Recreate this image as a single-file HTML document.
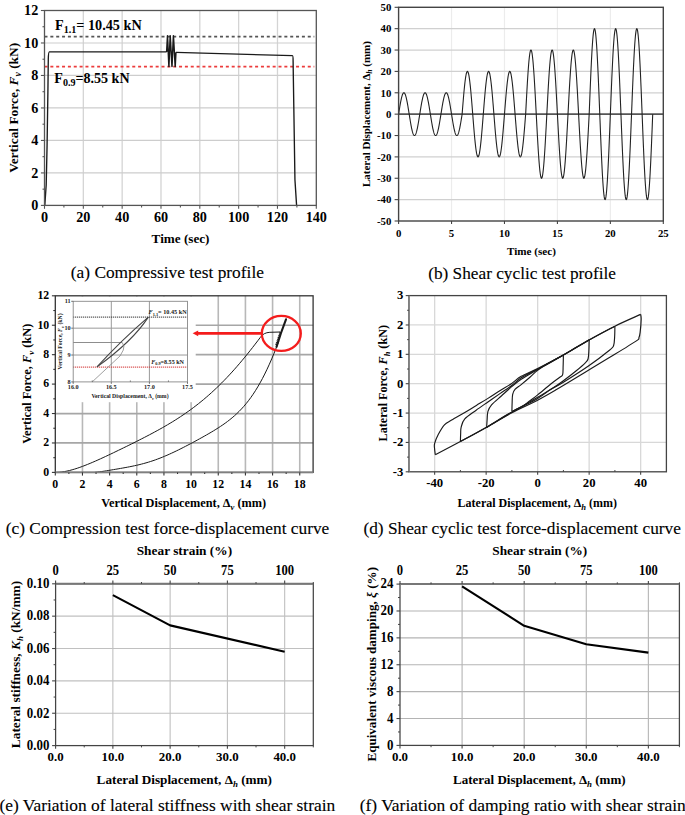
<!DOCTYPE html>
<html><head><meta charset="utf-8"><style>
html,body{margin:0;padding:0;background:#fff;width:685px;height:815px;overflow:hidden}
svg{display:block}
</style></head><body>
<svg width="685" height="815" viewBox="0 0 685 815" font-family="Liberation Serif, serif" fill="#000">
<line x1="83.33" y1="10.5" x2="83.33" y2="205.4" stroke="#d4d4d4" stroke-width="1.3" />
<line x1="122.16" y1="10.5" x2="122.16" y2="205.4" stroke="#d4d4d4" stroke-width="1.3" />
<line x1="160.99" y1="10.5" x2="160.99" y2="205.4" stroke="#d4d4d4" stroke-width="1.3" />
<line x1="199.81" y1="10.5" x2="199.81" y2="205.4" stroke="#d4d4d4" stroke-width="1.3" />
<line x1="238.64" y1="10.5" x2="238.64" y2="205.4" stroke="#d4d4d4" stroke-width="1.3" />
<line x1="277.47" y1="10.5" x2="277.47" y2="205.4" stroke="#d4d4d4" stroke-width="1.3" />
<line x1="44.5" y1="172.92" x2="316.3" y2="172.92" stroke="#cdcdcd" stroke-width="1.2" />
<line x1="44.5" y1="140.43" x2="316.3" y2="140.43" stroke="#cdcdcd" stroke-width="1.2" />
<line x1="44.5" y1="107.95" x2="316.3" y2="107.95" stroke="#cdcdcd" stroke-width="1.2" />
<line x1="44.5" y1="75.47" x2="316.3" y2="75.47" stroke="#cdcdcd" stroke-width="1.2" />
<line x1="44.5" y1="42.98" x2="316.3" y2="42.98" stroke="#cdcdcd" stroke-width="1.2" />
<line x1="44.5" y1="36.6" x2="314.3" y2="36.6" stroke="#555" stroke-width="1.9" stroke-dasharray="3 2.85"/>
<line x1="44.5" y1="66.6" x2="314.3" y2="66.6" stroke="#ec3c3c" stroke-width="1.9" stroke-dasharray="3 2.85"/>
<path d="M44.79 205.4 L46.19 184.94 L47.08 145.31 L47.9 91.71 L48.29 59.22 Q48.48 51.92 49.35 51.92 L166.62 51.92" stroke="#1a1a1a" stroke-width="1.35" fill="none" />
<path d="M166.62 51.92 L167.51 35.67 L168.91 66.53 L170.21 35.67 L171.99 66.53 L173.41 35.67 L175.2 66.53 L175.93 52.4" stroke="#1a1a1a" stroke-width="1.5" fill="none" stroke-linejoin="round"/>
<path d="M175.93 52.4 L292.42 55.65 Q293.1 55.65 293.1 60.85 L293.39 80.34 L294.94 179.74 L296.59 205.4" stroke="#1a1a1a" stroke-width="1.35" fill="none" />
<rect x="44.5" y="10.5" width="271.8" height="194.9" fill="none" stroke="#555" stroke-width="1.3"/>
<line x1="40.9" y1="205.4" x2="44.5" y2="205.4" stroke="#555" stroke-width="1.1" />
<line x1="42.5" y1="189.16" x2="44.5" y2="189.16" stroke="#555" stroke-width="1.1" />
<line x1="40.9" y1="172.92" x2="44.5" y2="172.92" stroke="#555" stroke-width="1.1" />
<line x1="42.5" y1="156.68" x2="44.5" y2="156.68" stroke="#555" stroke-width="1.1" />
<line x1="40.9" y1="140.43" x2="44.5" y2="140.43" stroke="#555" stroke-width="1.1" />
<line x1="42.5" y1="124.19" x2="44.5" y2="124.19" stroke="#555" stroke-width="1.1" />
<line x1="40.9" y1="107.95" x2="44.5" y2="107.95" stroke="#555" stroke-width="1.1" />
<line x1="42.5" y1="91.71" x2="44.5" y2="91.71" stroke="#555" stroke-width="1.1" />
<line x1="40.9" y1="75.47" x2="44.5" y2="75.47" stroke="#555" stroke-width="1.1" />
<line x1="42.5" y1="59.22" x2="44.5" y2="59.22" stroke="#555" stroke-width="1.1" />
<line x1="40.9" y1="42.98" x2="44.5" y2="42.98" stroke="#555" stroke-width="1.1" />
<line x1="42.5" y1="26.74" x2="44.5" y2="26.74" stroke="#555" stroke-width="1.1" />
<line x1="40.9" y1="10.5" x2="44.5" y2="10.5" stroke="#555" stroke-width="1.1" />
<line x1="44.5" y1="205.4" x2="44.5" y2="208.8" stroke="#555" stroke-width="1.1" />
<line x1="63.91" y1="205.4" x2="63.91" y2="207.4" stroke="#555" stroke-width="1.1" />
<line x1="83.33" y1="205.4" x2="83.33" y2="208.8" stroke="#555" stroke-width="1.1" />
<line x1="102.74" y1="205.4" x2="102.74" y2="207.4" stroke="#555" stroke-width="1.1" />
<line x1="122.16" y1="205.4" x2="122.16" y2="208.8" stroke="#555" stroke-width="1.1" />
<line x1="141.57" y1="205.4" x2="141.57" y2="207.4" stroke="#555" stroke-width="1.1" />
<line x1="160.99" y1="205.4" x2="160.99" y2="208.8" stroke="#555" stroke-width="1.1" />
<line x1="180.4" y1="205.4" x2="180.4" y2="207.4" stroke="#555" stroke-width="1.1" />
<line x1="199.81" y1="205.4" x2="199.81" y2="208.8" stroke="#555" stroke-width="1.1" />
<line x1="219.23" y1="205.4" x2="219.23" y2="207.4" stroke="#555" stroke-width="1.1" />
<line x1="238.64" y1="205.4" x2="238.64" y2="208.8" stroke="#555" stroke-width="1.1" />
<line x1="258.06" y1="205.4" x2="258.06" y2="207.4" stroke="#555" stroke-width="1.1" />
<line x1="277.47" y1="205.4" x2="277.47" y2="208.8" stroke="#555" stroke-width="1.1" />
<line x1="296.89" y1="205.4" x2="296.89" y2="207.4" stroke="#555" stroke-width="1.1" />
<line x1="316.3" y1="205.4" x2="316.3" y2="208.8" stroke="#555" stroke-width="1.1" />
<text transform="translate(38.3,210) scale(1,1.03)" font-size="14.2" text-anchor="end" font-weight="bold" >0</text>
<text transform="translate(38.3,177.52) scale(1,1.03)" font-size="14.2" text-anchor="end" font-weight="bold" >2</text>
<text transform="translate(38.3,145.03) scale(1,1.03)" font-size="14.2" text-anchor="end" font-weight="bold" >4</text>
<text transform="translate(38.3,112.55) scale(1,1.03)" font-size="14.2" text-anchor="end" font-weight="bold" >6</text>
<text transform="translate(38.3,80.07) scale(1,1.03)" font-size="14.2" text-anchor="end" font-weight="bold" >8</text>
<text transform="translate(38.3,47.58) scale(1,1.03)" font-size="14.2" text-anchor="end" font-weight="bold" >10</text>
<text transform="translate(38.3,15.1) scale(1,1.03)" font-size="14.2" text-anchor="end" font-weight="bold" >12</text>
<text transform="translate(44.5,222) scale(1,1.03)" font-size="14.2" text-anchor="middle" font-weight="bold" >0</text>
<text transform="translate(83.33,222) scale(1,1.03)" font-size="14.2" text-anchor="middle" font-weight="bold" >20</text>
<text transform="translate(122.16,222) scale(1,1.03)" font-size="14.2" text-anchor="middle" font-weight="bold" >40</text>
<text transform="translate(160.99,222) scale(1,1.03)" font-size="14.2" text-anchor="middle" font-weight="bold" >60</text>
<text transform="translate(199.81,222) scale(1,1.03)" font-size="14.2" text-anchor="middle" font-weight="bold" >80</text>
<text transform="translate(238.64,222) scale(1,1.03)" font-size="14.2" text-anchor="middle" font-weight="bold" >100</text>
<text transform="translate(277.47,222) scale(1,1.03)" font-size="14.2" text-anchor="middle" font-weight="bold" >120</text>
<text transform="translate(316.3,222) scale(1,1.03)" font-size="14.2" text-anchor="middle" font-weight="bold" >140</text>
<text x="180.55" y="243.2" font-size="13" text-anchor="middle" font-weight="bold" textLength="57.9" lengthAdjust="spacingAndGlyphs" >Time (sec)</text>
<text transform="translate(17.9,107.8) rotate(-90)" x="0" y="0" font-size="13.34" text-anchor="middle" font-weight="bold" textLength="130" lengthAdjust="spacingAndGlyphs" >Vertical Force, <tspan font-style="italic">F</tspan><tspan font-style="italic" font-size="9.5" dy="3">v</tspan><tspan dy="-3"> (kN)</tspan></text>
<text x="98.35" y="29.7" font-size="14.1" text-anchor="middle" font-weight="bold" textLength="86.7" lengthAdjust="spacingAndGlyphs" >F<tspan font-size="10" dy="3.4">1.1</tspan><tspan dy="-3.4">= 10.45 kN</tspan></text>
<text x="91.95" y="82.6" font-size="14.0" text-anchor="middle" font-weight="bold" textLength="75.3" lengthAdjust="spacingAndGlyphs" >F<tspan font-size="10" dy="3.4">0.9</tspan><tspan dy="-3.4">=8.55 kN</tspan></text>
<text x="167.35" y="278.4" font-size="16.8" text-anchor="middle" font-weight="normal" textLength="193.1" lengthAdjust="spacingAndGlyphs" stroke="#000" stroke-width="0.12">(a) Compressive test profile</text>
<line x1="451.54" y1="7.3" x2="451.54" y2="221" stroke="#ececec" stroke-width="1.2" />
<line x1="504.48" y1="7.3" x2="504.48" y2="221" stroke="#ececec" stroke-width="1.2" />
<line x1="557.42" y1="7.3" x2="557.42" y2="221" stroke="#ececec" stroke-width="1.2" />
<line x1="610.36" y1="7.3" x2="610.36" y2="221" stroke="#ececec" stroke-width="1.2" />
<line x1="398.6" y1="199.63" x2="663.3" y2="199.63" stroke="#d0d0d0" stroke-width="1.2" />
<line x1="398.6" y1="178.26" x2="663.3" y2="178.26" stroke="#d0d0d0" stroke-width="1.2" />
<line x1="398.6" y1="156.89" x2="663.3" y2="156.89" stroke="#d0d0d0" stroke-width="1.2" />
<line x1="398.6" y1="135.52" x2="663.3" y2="135.52" stroke="#d0d0d0" stroke-width="1.2" />
<line x1="398.6" y1="92.78" x2="663.3" y2="92.78" stroke="#d0d0d0" stroke-width="1.2" />
<line x1="398.6" y1="71.41" x2="663.3" y2="71.41" stroke="#d0d0d0" stroke-width="1.2" />
<line x1="398.6" y1="50.04" x2="663.3" y2="50.04" stroke="#d0d0d0" stroke-width="1.2" />
<line x1="398.6" y1="28.67" x2="663.3" y2="28.67" stroke="#d0d0d0" stroke-width="1.2" />
<line x1="398.6" y1="114.15" x2="663.3" y2="114.15" stroke="#555" stroke-width="1.6" />
<path d="M398.6 114.15 L398.81 112.81 L399.02 111.47 L399.24 110.15 L399.45 108.84 L399.66 107.55 L399.87 106.28 L400.08 105.05 L400.29 103.85 L400.51 102.7 L400.72 101.59 L400.93 100.53 L401.14 99.52 L401.35 98.57 L401.56 97.68 L401.78 96.86 L401.99 96.11 L402.2 95.42 L402.41 94.81 L402.62 94.28 L402.84 93.83 L403.05 93.45 L403.26 93.16 L403.47 92.95 L403.68 92.82 L403.89 92.78 L404.11 92.82 L404.32 92.95 L404.53 93.16 L404.74 93.45 L404.95 93.83 L405.16 94.28 L405.38 94.81 L405.59 95.42 L405.8 96.11 L406.01 96.86 L406.22 97.68 L406.44 98.57 L406.65 99.52 L406.86 100.53 L407.07 101.59 L407.28 102.7 L407.49 103.85 L407.71 105.05 L407.92 106.28 L408.13 107.55 L408.34 108.84 L408.55 110.15 L408.76 111.47 L408.98 112.81 L409.19 114.15 L409.4 115.49 L409.61 116.83 L409.82 118.15 L410.04 119.46 L410.25 120.75 L410.46 122.02 L410.67 123.25 L410.88 124.45 L411.09 125.6 L411.31 126.71 L411.52 127.77 L411.73 128.78 L411.94 129.73 L412.15 130.62 L412.36 131.44 L412.58 132.19 L412.79 132.88 L413 133.49 L413.21 134.02 L413.42 134.47 L413.63 134.85 L413.85 135.14 L414.06 135.35 L414.27 135.48 L414.48 135.52 L414.69 135.48 L414.91 135.35 L415.12 135.14 L415.33 134.85 L415.54 134.47 L415.75 134.02 L415.96 133.49 L416.18 132.88 L416.39 132.19 L416.6 131.44 L416.81 130.62 L417.02 129.73 L417.23 128.78 L417.45 127.77 L417.66 126.71 L417.87 125.6 L418.08 124.45 L418.29 123.25 L418.51 122.02 L418.72 120.75 L418.93 119.46 L419.14 118.15 L419.35 116.83 L419.56 115.49 L419.78 114.15 L419.99 112.81 L420.2 111.47 L420.41 110.15 L420.62 108.84 L420.83 107.55 L421.05 106.28 L421.26 105.05 L421.47 103.85 L421.68 102.7 L421.89 101.59 L422.11 100.53 L422.32 99.52 L422.53 98.57 L422.74 97.68 L422.95 96.86 L423.16 96.11 L423.38 95.42 L423.59 94.81 L423.8 94.28 L424.01 93.83 L424.22 93.45 L424.43 93.16 L424.65 92.95 L424.86 92.82 L425.07 92.78 L425.28 92.82 L425.49 92.95 L425.71 93.16 L425.92 93.45 L426.13 93.83 L426.34 94.28 L426.55 94.81 L426.76 95.42 L426.98 96.11 L427.19 96.86 L427.4 97.68 L427.61 98.57 L427.82 99.52 L428.03 100.53 L428.25 101.59 L428.46 102.7 L428.67 103.85 L428.88 105.05 L429.09 106.28 L429.31 107.55 L429.52 108.84 L429.73 110.15 L429.94 111.47 L430.15 112.81 L430.36 114.15 L430.58 115.49 L430.79 116.83 L431 118.15 L431.21 119.46 L431.42 120.75 L431.63 122.02 L431.85 123.25 L432.06 124.45 L432.27 125.6 L432.48 126.71 L432.69 127.77 L432.91 128.78 L433.12 129.73 L433.33 130.62 L433.54 131.44 L433.75 132.19 L433.96 132.88 L434.18 133.49 L434.39 134.02 L434.6 134.47 L434.81 134.85 L435.02 135.14 L435.23 135.35 L435.45 135.48 L435.66 135.52 L435.87 135.48 L436.08 135.35 L436.29 135.14 L436.51 134.85 L436.72 134.47 L436.93 134.02 L437.14 133.49 L437.35 132.88 L437.56 132.19 L437.78 131.44 L437.99 130.62 L438.2 129.73 L438.41 128.78 L438.62 127.77 L438.83 126.71 L439.05 125.6 L439.26 124.45 L439.47 123.25 L439.68 122.02 L439.89 120.75 L440.1 119.46 L440.32 118.15 L440.53 116.83 L440.74 115.49 L440.95 114.15 L441.16 112.81 L441.38 111.47 L441.59 110.15 L441.8 108.84 L442.01 107.55 L442.22 106.28 L442.43 105.05 L442.65 103.85 L442.86 102.7 L443.07 101.59 L443.28 100.53 L443.49 99.52 L443.7 98.57 L443.92 97.68 L444.13 96.86 L444.34 96.11 L444.55 95.42 L444.76 94.81 L444.98 94.28 L445.19 93.83 L445.4 93.45 L445.61 93.16 L445.82 92.95 L446.03 92.82 L446.25 92.78 L446.46 92.82 L446.67 92.95 L446.88 93.16 L447.09 93.45 L447.3 93.83 L447.52 94.28 L447.73 94.81 L447.94 95.42 L448.15 96.11 L448.36 96.86 L448.58 97.68 L448.79 98.57 L449 99.52 L449.21 100.53 L449.42 101.59 L449.63 102.7 L449.85 103.85 L450.06 105.05 L450.27 106.28 L450.48 107.55 L450.69 108.84 L450.9 110.15 L451.12 111.47 L451.33 112.81 L451.54 114.15 L451.75 115.49 L451.96 116.83 L452.18 118.15 L452.39 119.46 L452.6 120.75 L452.81 122.02 L453.02 123.25 L453.23 124.45 L453.45 125.6 L453.66 126.71 L453.87 127.77 L454.08 128.78 L454.29 129.73 L454.5 130.62 L454.72 131.44 L454.93 132.19 L455.14 132.88 L455.35 133.49 L455.56 134.02 L455.78 134.47 L455.99 134.85 L456.2 135.14 L456.41 135.35 L456.62 135.48 L456.83 135.52 L457.05 135.48 L457.26 135.35 L457.47 135.14 L457.68 134.85 L457.89 134.47 L458.1 134.02 L458.32 133.49 L458.53 132.88 L458.74 132.19 L458.95 131.44 L459.16 130.62 L459.38 129.73 L459.59 128.78 L459.8 127.77 L460.01 126.71 L460.22 125.6 L460.43 124.45 L460.65 123.25 L460.86 122.02 L461.07 120.75 L461.28 119.46 L461.49 118.15 L461.7 116.83 L461.92 115.49 L462.13 114.15 L462.34 111.47 L462.55 108.79 L462.76 106.14 L462.98 103.52 L463.19 100.94 L463.4 98.42 L463.61 95.95 L463.82 93.56 L464.03 91.25 L464.25 89.03 L464.46 86.91 L464.67 84.89 L464.88 82.99 L465.09 81.22 L465.3 79.57 L465.52 78.06 L465.73 76.7 L465.94 75.48 L466.15 74.41 L466.36 73.5 L466.57 72.75 L466.79 72.17 L467 71.75 L467.21 71.49 L467.42 71.41 L467.63 71.49 L467.85 71.75 L468.06 72.17 L468.27 72.75 L468.48 73.5 L468.69 74.41 L468.9 75.48 L469.12 76.7 L469.33 78.06 L469.54 79.57 L469.75 81.22 L469.96 82.99 L470.17 84.89 L470.39 86.91 L470.6 89.03 L470.81 91.25 L471.02 93.56 L471.23 95.95 L471.45 98.42 L471.66 100.94 L471.87 103.52 L472.08 106.14 L472.29 108.79 L472.5 111.47 L472.72 114.15 L472.93 116.83 L473.14 119.51 L473.35 122.16 L473.56 124.78 L473.77 127.36 L473.99 129.88 L474.2 132.35 L474.41 134.74 L474.62 137.05 L474.83 139.27 L475.05 141.39 L475.26 143.41 L475.47 145.31 L475.68 147.08 L475.89 148.73 L476.1 150.24 L476.32 151.6 L476.53 152.82 L476.74 153.89 L476.95 154.8 L477.16 155.55 L477.37 156.13 L477.59 156.55 L477.8 156.81 L478.01 156.89 L478.22 156.81 L478.43 156.55 L478.65 156.13 L478.86 155.55 L479.07 154.8 L479.28 153.89 L479.49 152.82 L479.7 151.6 L479.92 150.24 L480.13 148.73 L480.34 147.08 L480.55 145.31 L480.76 143.41 L480.97 141.39 L481.19 139.27 L481.4 137.05 L481.61 134.74 L481.82 132.35 L482.03 129.88 L482.25 127.36 L482.46 124.78 L482.67 122.16 L482.88 119.51 L483.09 116.83 L483.3 114.15 L483.52 111.47 L483.73 108.79 L483.94 106.14 L484.15 103.52 L484.36 100.94 L484.57 98.42 L484.79 95.95 L485 93.56 L485.21 91.25 L485.42 89.03 L485.63 86.91 L485.85 84.89 L486.06 82.99 L486.27 81.22 L486.48 79.57 L486.69 78.06 L486.9 76.7 L487.12 75.48 L487.33 74.41 L487.54 73.5 L487.75 72.75 L487.96 72.17 L488.17 71.75 L488.39 71.49 L488.6 71.41 L488.81 71.49 L489.02 71.75 L489.23 72.17 L489.45 72.75 L489.66 73.5 L489.87 74.41 L490.08 75.48 L490.29 76.7 L490.5 78.06 L490.72 79.57 L490.93 81.22 L491.14 82.99 L491.35 84.89 L491.56 86.91 L491.77 89.03 L491.99 91.25 L492.2 93.56 L492.41 95.95 L492.62 98.42 L492.83 100.94 L493.04 103.52 L493.26 106.14 L493.47 108.79 L493.68 111.47 L493.89 114.15 L494.1 116.83 L494.32 119.51 L494.53 122.16 L494.74 124.78 L494.95 127.36 L495.16 129.88 L495.37 132.35 L495.59 134.74 L495.8 137.05 L496.01 139.27 L496.22 141.39 L496.43 143.41 L496.64 145.31 L496.86 147.08 L497.07 148.73 L497.28 150.24 L497.49 151.6 L497.7 152.82 L497.92 153.89 L498.13 154.8 L498.34 155.55 L498.55 156.13 L498.76 156.55 L498.97 156.81 L499.19 156.89 L499.4 156.81 L499.61 156.55 L499.82 156.13 L500.03 155.55 L500.24 154.8 L500.46 153.89 L500.67 152.82 L500.88 151.6 L501.09 150.24 L501.3 148.73 L501.52 147.08 L501.73 145.31 L501.94 143.41 L502.15 141.39 L502.36 139.27 L502.57 137.05 L502.79 134.74 L503 132.35 L503.21 129.88 L503.42 127.36 L503.63 124.78 L503.84 122.16 L504.06 119.51 L504.27 116.83 L504.48 114.15 L504.69 111.47 L504.9 108.79 L505.12 106.14 L505.33 103.52 L505.54 100.94 L505.75 98.42 L505.96 95.95 L506.17 93.56 L506.39 91.25 L506.6 89.03 L506.81 86.91 L507.02 84.89 L507.23 82.99 L507.44 81.22 L507.66 79.57 L507.87 78.06 L508.08 76.7 L508.29 75.48 L508.5 74.41 L508.72 73.5 L508.93 72.75 L509.14 72.17 L509.35 71.75 L509.56 71.49 L509.77 71.41 L509.99 71.49 L510.2 71.75 L510.41 72.17 L510.62 72.75 L510.83 73.5 L511.04 74.41 L511.26 75.48 L511.47 76.7 L511.68 78.06 L511.89 79.57 L512.1 81.22 L512.32 82.99 L512.53 84.89 L512.74 86.91 L512.95 89.03 L513.16 91.25 L513.37 93.56 L513.59 95.95 L513.8 98.42 L514.01 100.94 L514.22 103.52 L514.43 106.14 L514.64 108.79 L514.86 111.47 L515.07 114.15 L515.28 116.83 L515.49 119.51 L515.7 122.16 L515.92 124.78 L516.13 127.36 L516.34 129.88 L516.55 132.35 L516.76 134.74 L516.97 137.05 L517.19 139.27 L517.4 141.39 L517.61 143.41 L517.82 145.31 L518.03 147.08 L518.24 148.73 L518.46 150.24 L518.67 151.6 L518.88 152.82 L519.09 153.89 L519.3 154.8 L519.51 155.55 L519.73 156.13 L519.94 156.55 L520.15 156.81 L520.36 156.89 L520.57 156.81 L520.79 156.55 L521 156.13 L521.21 155.55 L521.42 154.8 L521.63 153.89 L521.84 152.82 L522.06 151.6 L522.27 150.24 L522.48 148.73 L522.69 147.08 L522.9 145.31 L523.11 143.41 L523.33 141.39 L523.54 139.27 L523.75 137.05 L523.96 134.74 L524.17 132.35 L524.39 129.88 L524.6 127.36 L524.81 124.78 L525.02 122.16 L525.23 119.51 L525.44 116.83 L525.66 114.15 L525.87 110.12 L526.08 106.11 L526.29 102.14 L526.5 98.21 L526.71 94.34 L526.93 90.55 L527.14 86.85 L527.35 83.26 L527.56 79.8 L527.77 76.47 L527.99 73.28 L528.2 70.26 L528.41 67.42 L528.62 64.75 L528.83 62.28 L529.04 60.02 L529.26 57.97 L529.47 56.14 L529.68 54.54 L529.89 53.18 L530.1 52.05 L530.31 51.18 L530.53 50.55 L530.74 50.17 L530.95 50.04 L531.16 50.17 L531.37 50.55 L531.59 51.18 L531.8 52.05 L532.01 53.18 L532.22 54.54 L532.43 56.14 L532.64 57.97 L532.86 60.02 L533.07 62.28 L533.28 64.75 L533.49 67.42 L533.7 70.26 L533.91 73.28 L534.13 76.47 L534.34 79.8 L534.55 83.26 L534.76 86.85 L534.97 90.55 L535.19 94.34 L535.4 98.21 L535.61 102.14 L535.82 106.11 L536.03 110.12 L536.24 114.15 L536.46 118.18 L536.67 122.19 L536.88 126.16 L537.09 130.09 L537.3 133.96 L537.51 137.75 L537.73 141.45 L537.94 145.04 L538.15 148.5 L538.36 151.83 L538.57 155.02 L538.79 158.04 L539 160.88 L539.21 163.55 L539.42 166.02 L539.63 168.28 L539.84 170.33 L540.06 172.16 L540.27 173.76 L540.48 175.12 L540.69 176.25 L540.9 177.12 L541.11 177.75 L541.33 178.13 L541.54 178.26 L541.75 178.13 L541.96 177.75 L542.17 177.12 L542.39 176.25 L542.6 175.12 L542.81 173.76 L543.02 172.16 L543.23 170.33 L543.44 168.28 L543.66 166.02 L543.87 163.55 L544.08 160.88 L544.29 158.04 L544.5 155.02 L544.71 151.83 L544.93 148.5 L545.14 145.04 L545.35 141.45 L545.56 137.75 L545.77 133.96 L545.98 130.09 L546.2 126.16 L546.41 122.19 L546.62 118.18 L546.83 114.15 L547.04 110.12 L547.26 106.11 L547.47 102.14 L547.68 98.21 L547.89 94.34 L548.1 90.55 L548.31 86.85 L548.53 83.26 L548.74 79.8 L548.95 76.47 L549.16 73.28 L549.37 70.26 L549.58 67.42 L549.8 64.75 L550.01 62.28 L550.22 60.02 L550.43 57.97 L550.64 56.14 L550.86 54.54 L551.07 53.18 L551.28 52.05 L551.49 51.18 L551.7 50.55 L551.91 50.17 L552.13 50.04 L552.34 50.17 L552.55 50.55 L552.76 51.18 L552.97 52.05 L553.18 53.18 L553.4 54.54 L553.61 56.14 L553.82 57.97 L554.03 60.02 L554.24 62.28 L554.46 64.75 L554.67 67.42 L554.88 70.26 L555.09 73.28 L555.3 76.47 L555.51 79.8 L555.73 83.26 L555.94 86.85 L556.15 90.55 L556.36 94.34 L556.57 98.21 L556.78 102.14 L557 106.11 L557.21 110.12 L557.42 114.15 L557.63 118.18 L557.84 122.19 L558.06 126.16 L558.27 130.09 L558.48 133.96 L558.69 137.75 L558.9 141.45 L559.11 145.04 L559.33 148.5 L559.54 151.83 L559.75 155.02 L559.96 158.04 L560.17 160.88 L560.38 163.55 L560.6 166.02 L560.81 168.28 L561.02 170.33 L561.23 172.16 L561.44 173.76 L561.66 175.12 L561.87 176.25 L562.08 177.12 L562.29 177.75 L562.5 178.13 L562.71 178.26 L562.93 178.13 L563.14 177.75 L563.35 177.12 L563.56 176.25 L563.77 175.12 L563.98 173.76 L564.2 172.16 L564.41 170.33 L564.62 168.28 L564.83 166.02 L565.04 163.55 L565.26 160.88 L565.47 158.04 L565.68 155.02 L565.89 151.83 L566.1 148.5 L566.31 145.04 L566.53 141.45 L566.74 137.75 L566.95 133.96 L567.16 130.09 L567.37 126.16 L567.58 122.19 L567.8 118.18 L568.01 114.15 L568.22 110.12 L568.43 106.11 L568.64 102.14 L568.86 98.21 L569.07 94.34 L569.28 90.55 L569.49 86.85 L569.7 83.26 L569.91 79.8 L570.13 76.47 L570.34 73.28 L570.55 70.26 L570.76 67.42 L570.97 64.75 L571.18 62.28 L571.4 60.02 L571.61 57.97 L571.82 56.14 L572.03 54.54 L572.24 53.18 L572.45 52.05 L572.67 51.18 L572.88 50.55 L573.09 50.17 L573.3 50.04 L573.51 50.17 L573.73 50.55 L573.94 51.18 L574.15 52.05 L574.36 53.18 L574.57 54.54 L574.78 56.14 L575 57.97 L575.21 60.02 L575.42 62.28 L575.63 64.75 L575.84 67.42 L576.05 70.26 L576.27 73.28 L576.48 76.47 L576.69 79.8 L576.9 83.26 L577.11 86.85 L577.33 90.55 L577.54 94.34 L577.75 98.21 L577.96 102.14 L578.17 106.11 L578.38 110.12 L578.6 114.15 L578.81 118.18 L579.02 122.19 L579.23 126.16 L579.44 130.09 L579.65 133.96 L579.87 137.75 L580.08 141.45 L580.29 145.04 L580.5 148.5 L580.71 151.83 L580.93 155.02 L581.14 158.04 L581.35 160.88 L581.56 163.55 L581.77 166.02 L581.98 168.28 L582.2 170.33 L582.41 172.16 L582.62 173.76 L582.83 175.12 L583.04 176.25 L583.25 177.12 L583.47 177.75 L583.68 178.13 L583.89 178.26 L584.1 178.13 L584.31 177.75 L584.53 177.12 L584.74 176.25 L584.95 175.12 L585.16 173.76 L585.37 172.16 L585.58 170.33 L585.8 168.28 L586.01 166.02 L586.22 163.55 L586.43 160.88 L586.64 158.04 L586.85 155.02 L587.07 151.83 L587.28 148.5 L587.49 145.04 L587.7 141.45 L587.91 137.75 L588.13 133.96 L588.34 130.09 L588.55 126.16 L588.76 122.19 L588.97 118.18 L589.18 114.15 L589.4 108.78 L589.61 103.44 L589.82 98.13 L590.03 92.89 L590.24 87.74 L590.45 82.68 L590.67 77.75 L590.88 72.97 L591.09 68.35 L591.3 63.91 L591.51 59.66 L591.73 55.63 L591.94 51.84 L592.15 48.29 L592.36 45 L592.57 41.98 L592.78 39.24 L593 36.81 L593.21 34.67 L593.42 32.85 L593.63 31.36 L593.84 30.18 L594.05 29.34 L594.27 28.84 L594.48 28.67 L594.69 28.84 L594.9 29.34 L595.11 30.18 L595.33 31.36 L595.54 32.85 L595.75 34.67 L595.96 36.81 L596.17 39.24 L596.38 41.98 L596.6 45 L596.81 48.29 L597.02 51.84 L597.23 55.63 L597.44 59.66 L597.65 63.91 L597.87 68.35 L598.08 72.97 L598.29 77.75 L598.5 82.68 L598.71 87.74 L598.92 92.89 L599.14 98.13 L599.35 103.44 L599.56 108.78 L599.77 114.15 L599.98 119.52 L600.2 124.86 L600.41 130.17 L600.62 135.41 L600.83 140.56 L601.04 145.62 L601.25 150.55 L601.47 155.33 L601.68 159.95 L601.89 164.39 L602.1 168.64 L602.31 172.67 L602.52 176.46 L602.74 180.01 L602.95 183.3 L603.16 186.32 L603.37 189.06 L603.58 191.49 L603.8 193.63 L604.01 195.45 L604.22 196.94 L604.43 198.12 L604.64 198.96 L604.85 199.46 L605.07 199.63 L605.28 199.46 L605.49 198.96 L605.7 198.12 L605.91 196.94 L606.12 195.45 L606.34 193.63 L606.55 191.49 L606.76 189.06 L606.97 186.32 L607.18 183.3 L607.4 180.01 L607.61 176.46 L607.82 172.67 L608.03 168.64 L608.24 164.39 L608.45 159.95 L608.67 155.33 L608.88 150.55 L609.09 145.62 L609.3 140.56 L609.51 135.41 L609.72 130.17 L609.94 124.86 L610.15 119.52 L610.36 114.15 L610.57 108.78 L610.78 103.44 L611 98.13 L611.21 92.89 L611.42 87.74 L611.63 82.68 L611.84 77.75 L612.05 72.97 L612.27 68.35 L612.48 63.91 L612.69 59.66 L612.9 55.63 L613.11 51.84 L613.32 48.29 L613.54 45 L613.75 41.98 L613.96 39.24 L614.17 36.81 L614.38 34.67 L614.6 32.85 L614.81 31.36 L615.02 30.18 L615.23 29.34 L615.44 28.84 L615.65 28.67 L615.87 28.84 L616.08 29.34 L616.29 30.18 L616.5 31.36 L616.71 32.85 L616.92 34.67 L617.14 36.81 L617.35 39.24 L617.56 41.98 L617.77 45 L617.98 48.29 L618.2 51.84 L618.41 55.63 L618.62 59.66 L618.83 63.91 L619.04 68.35 L619.25 72.97 L619.47 77.75 L619.68 82.68 L619.89 87.74 L620.1 92.89 L620.31 98.13 L620.52 103.44 L620.74 108.78 L620.95 114.15 L621.16 119.52 L621.37 124.86 L621.58 130.17 L621.8 135.41 L622.01 140.56 L622.22 145.62 L622.43 150.55 L622.64 155.33 L622.85 159.95 L623.07 164.39 L623.28 168.64 L623.49 172.67 L623.7 176.46 L623.91 180.01 L624.12 183.3 L624.34 186.32 L624.55 189.06 L624.76 191.49 L624.97 193.63 L625.18 195.45 L625.39 196.94 L625.61 198.12 L625.82 198.96 L626.03 199.46 L626.24 199.63 L626.45 199.46 L626.67 198.96 L626.88 198.12 L627.09 196.94 L627.3 195.45 L627.51 193.63 L627.72 191.49 L627.94 189.06 L628.15 186.32 L628.36 183.3 L628.57 180.01 L628.78 176.46 L628.99 172.67 L629.21 168.64 L629.42 164.39 L629.63 159.95 L629.84 155.33 L630.05 150.55 L630.27 145.62 L630.48 140.56 L630.69 135.41 L630.9 130.17 L631.11 124.86 L631.32 119.52 L631.54 114.15 L631.75 108.78 L631.96 103.44 L632.17 98.13 L632.38 92.89 L632.59 87.74 L632.81 82.68 L633.02 77.75 L633.23 72.97 L633.44 68.35 L633.65 63.91 L633.87 59.66 L634.08 55.63 L634.29 51.84 L634.5 48.29 L634.71 45 L634.92 41.98 L635.14 39.24 L635.35 36.81 L635.56 34.67 L635.77 32.85 L635.98 31.36 L636.19 30.18 L636.41 29.34 L636.62 28.84 L636.83 28.67 L637.04 28.84 L637.25 29.34 L637.47 30.18 L637.68 31.36 L637.89 32.85 L638.1 34.67 L638.31 36.81 L638.52 39.24 L638.74 41.98 L638.95 45 L639.16 48.29 L639.37 51.84 L639.58 55.63 L639.79 59.66 L640.01 63.91 L640.22 68.35 L640.43 72.97 L640.64 77.75 L640.85 82.68 L641.07 87.74 L641.28 92.89 L641.49 98.13 L641.7 103.44 L641.91 108.78 L642.12 114.15 L642.34 119.52 L642.55 124.86 L642.76 130.17 L642.97 135.41 L643.18 140.56 L643.39 145.62 L643.61 150.55 L643.82 155.33 L644.03 159.95 L644.24 164.39 L644.45 168.64 L644.67 172.67 L644.88 176.46 L645.09 180.01 L645.3 183.3 L645.51 186.32 L645.72 189.06 L645.94 191.49 L646.15 193.63 L646.36 195.45 L646.57 196.94 L646.78 198.12 L646.99 198.96 L647.21 199.46 L647.42 199.63 L647.63 199.46 L647.84 198.96 L648.05 198.12 L648.27 196.94 L648.48 195.45 L648.69 193.63 L648.9 191.49 L649.11 189.06 L649.32 186.32 L649.54 183.3 L649.75 180.01 L649.96 176.46 L650.17 172.67 L650.38 168.64 L650.59 164.39 L650.81 159.95 L651.02 155.33 L651.23 150.55 L651.44 145.62 L651.65 140.56 L651.86 135.41 L652.08 130.17 L652.29 124.86 L652.5 119.52 L652.71 114.15" stroke="#222" stroke-width="1.1" fill="none" />
<rect x="398.6" y="7.3" width="264.7" height="213.7" fill="none" stroke="#444" stroke-width="1.4"/>
<line x1="394.6" y1="221" x2="398.6" y2="221" stroke="#444" stroke-width="1.1" />
<line x1="394.6" y1="199.63" x2="398.6" y2="199.63" stroke="#444" stroke-width="1.1" />
<line x1="394.6" y1="178.26" x2="398.6" y2="178.26" stroke="#444" stroke-width="1.1" />
<line x1="394.6" y1="156.89" x2="398.6" y2="156.89" stroke="#444" stroke-width="1.1" />
<line x1="394.6" y1="135.52" x2="398.6" y2="135.52" stroke="#444" stroke-width="1.1" />
<line x1="394.6" y1="114.15" x2="398.6" y2="114.15" stroke="#444" stroke-width="1.1" />
<line x1="394.6" y1="92.78" x2="398.6" y2="92.78" stroke="#444" stroke-width="1.1" />
<line x1="394.6" y1="71.41" x2="398.6" y2="71.41" stroke="#444" stroke-width="1.1" />
<line x1="394.6" y1="50.04" x2="398.6" y2="50.04" stroke="#444" stroke-width="1.1" />
<line x1="394.6" y1="28.67" x2="398.6" y2="28.67" stroke="#444" stroke-width="1.1" />
<line x1="394.6" y1="7.3" x2="398.6" y2="7.3" stroke="#444" stroke-width="1.1" />
<line x1="398.6" y1="221" x2="398.6" y2="224" stroke="#444" stroke-width="1.1" />
<line x1="451.54" y1="221" x2="451.54" y2="224" stroke="#444" stroke-width="1.1" />
<line x1="504.48" y1="221" x2="504.48" y2="224" stroke="#444" stroke-width="1.1" />
<line x1="557.42" y1="221" x2="557.42" y2="224" stroke="#444" stroke-width="1.1" />
<line x1="610.36" y1="221" x2="610.36" y2="224" stroke="#444" stroke-width="1.1" />
<line x1="663.3" y1="221" x2="663.3" y2="224" stroke="#444" stroke-width="1.1" />
<text x="391.4" y="224.8" font-size="10.8" text-anchor="end" font-weight="bold" >-50</text>
<text x="391.4" y="203.43" font-size="10.8" text-anchor="end" font-weight="bold" >-40</text>
<text x="391.4" y="182.06" font-size="10.8" text-anchor="end" font-weight="bold" >-30</text>
<text x="391.4" y="160.69" font-size="10.8" text-anchor="end" font-weight="bold" >-20</text>
<text x="391.4" y="139.32" font-size="10.8" text-anchor="end" font-weight="bold" >-10</text>
<text x="391.4" y="117.95" font-size="10.8" text-anchor="end" font-weight="bold" >0</text>
<text x="391.4" y="96.58" font-size="10.8" text-anchor="end" font-weight="bold" >10</text>
<text x="391.4" y="75.21" font-size="10.8" text-anchor="end" font-weight="bold" >20</text>
<text x="391.4" y="53.84" font-size="10.8" text-anchor="end" font-weight="bold" >30</text>
<text x="391.4" y="32.47" font-size="10.8" text-anchor="end" font-weight="bold" >40</text>
<text x="391.4" y="11.1" font-size="10.8" text-anchor="end" font-weight="bold" >50</text>
<text x="398.6" y="236.5" font-size="10.8" text-anchor="middle" font-weight="bold" >0</text>
<text x="451.54" y="236.5" font-size="10.8" text-anchor="middle" font-weight="bold" >5</text>
<text x="504.48" y="236.5" font-size="10.8" text-anchor="middle" font-weight="bold" >10</text>
<text x="557.42" y="236.5" font-size="10.8" text-anchor="middle" font-weight="bold" >15</text>
<text x="610.36" y="236.5" font-size="10.8" text-anchor="middle" font-weight="bold" >20</text>
<text x="663.3" y="236.5" font-size="10.8" text-anchor="middle" font-weight="bold" >25</text>
<text x="531.45" y="255" font-size="10.8" text-anchor="middle" font-weight="bold" textLength="48.9" lengthAdjust="spacingAndGlyphs" >Time (sec)</text>
<text transform="translate(369.7,114.05) rotate(-90)" x="0" y="0" font-size="10.93" text-anchor="middle" font-weight="bold" textLength="145.9" lengthAdjust="spacingAndGlyphs" >Lateral Displacement, Δ<tspan font-style="italic" font-size="7.7" dy="2.5">h</tspan><tspan dy="-2.5"> (mm)</tspan></text>
<text x="522.1" y="278.7" font-size="16.8" text-anchor="middle" font-weight="normal" textLength="187.8" lengthAdjust="spacingAndGlyphs" stroke="#000" stroke-width="0.12">(b) Shear cyclic test profile</text>
<line x1="82.46" y1="295.8" x2="82.46" y2="472.4" stroke="#b8b8b8" stroke-width="1.6" />
<line x1="109.62" y1="295.8" x2="109.62" y2="472.4" stroke="#b8b8b8" stroke-width="1.6" />
<line x1="136.78" y1="295.8" x2="136.78" y2="472.4" stroke="#b8b8b8" stroke-width="1.6" />
<line x1="163.94" y1="295.8" x2="163.94" y2="472.4" stroke="#b8b8b8" stroke-width="1.6" />
<line x1="191.1" y1="295.8" x2="191.1" y2="472.4" stroke="#b8b8b8" stroke-width="1.6" />
<line x1="218.26" y1="295.8" x2="218.26" y2="472.4" stroke="#b8b8b8" stroke-width="1.6" />
<line x1="245.42" y1="295.8" x2="245.42" y2="472.4" stroke="#b8b8b8" stroke-width="1.6" />
<line x1="272.58" y1="295.8" x2="272.58" y2="472.4" stroke="#b8b8b8" stroke-width="1.6" />
<line x1="299.74" y1="295.8" x2="299.74" y2="472.4" stroke="#b8b8b8" stroke-width="1.6" />
<line x1="55.3" y1="442.97" x2="313.1" y2="442.97" stroke="#a6a6a6" stroke-width="1.7" />
<line x1="55.3" y1="413.53" x2="313.1" y2="413.53" stroke="#a6a6a6" stroke-width="1.7" />
<line x1="55.3" y1="384.1" x2="313.1" y2="384.1" stroke="#a6a6a6" stroke-width="1.7" />
<line x1="55.3" y1="354.67" x2="313.1" y2="354.67" stroke="#a6a6a6" stroke-width="1.7" />
<line x1="55.3" y1="325.23" x2="313.1" y2="325.23" stroke="#a6a6a6" stroke-width="1.7" />
<rect x="56" y="296.5" width="139.7" height="105.7" fill="#fff"/>
<path d="M56.66 472.4 L59.24 472.3 L61.81 472.01 L64.39 471.6 L66.97 471.09 L69.55 470.49 L72.13 469.8 L74.71 469.05 L77.29 468.22 L79.86 467.34 L82.44 466.4 L85.02 465.42 L87.6 464.39 L90.18 463.33 L92.76 462.24 L95.34 461.12 L97.91 459.97 L100.49 458.81 L103.07 457.63 L105.65 456.43 L108.23 455.22 L110.81 454 L113.38 452.77 L115.96 451.53 L118.54 450.29 L121.12 449.04 L123.7 447.78 L126.28 446.52 L128.86 445.25 L131.43 443.97 L134.01 442.69 L136.59 441.4 L139.17 440.1 L141.75 438.78 L144.33 437.46 L146.9 436.13 L149.48 434.78 L152.06 433.41 L154.64 432.03 L157.22 430.62 L159.8 429.2 L162.38 427.74 L164.95 426.27 L167.53 424.76 L170.11 423.23 L172.69 421.66 L175.27 420.06 L177.85 418.41 L180.43 416.73 L183 415.01 L185.58 413.25 L188.16 411.44 L190.74 409.58 L193.32 407.67 L195.9 405.71 L198.47 403.69 L201.05 401.62 L203.63 399.5 L206.21 397.32 L208.79 395.07 L211.37 392.77 L213.95 390.4 L216.52 387.98 L219.1 385.49 L221.68 382.93 L224.26 380.32 L226.84 377.64 L229.42 374.89 L231.99 372.08 L234.57 369.21 L237.15 366.28 L239.73 363.28 L242.31 360.23 L244.89 357.12 L247.47 353.95 L250.04 350.72 L252.62 347.45 L255.2 344.12 L257.78 340.75 L260.36 337.34 Q263.48 332.59 269.86 332.3 L280.05 332" stroke="#1a1a1a" stroke-width="1" fill="none" />
<path d="M94.82 472.4 L97.15 472.17 L99.47 471.87 L101.8 471.53 L104.13 471.17 L106.46 470.79 L108.78 470.41 L111.11 470.03 L113.44 469.64 L115.77 469.24 L118.09 468.85 L120.42 468.45 L122.75 468.04 L125.08 467.62 L127.4 467.19 L129.73 466.74 L132.06 466.28 L134.39 465.78 L136.71 465.27 L139.04 464.72 L141.37 464.14 L143.7 463.53 L146.02 462.87 L148.35 462.19 L150.68 461.46 L153.01 460.69 L155.33 459.88 L157.66 459.03 L159.99 458.15 L162.32 457.22 L164.64 456.26 L166.97 455.26 L169.3 454.23 L171.63 453.17 L173.95 452.08 L176.28 450.97 L178.61 449.83 L180.94 448.67 L183.26 447.49 L185.59 446.29 L187.92 445.08 L190.25 443.85 L192.57 442.61 L194.9 441.36 L197.23 440.1 L199.56 438.82 L201.88 437.54 L204.21 436.23 L206.54 434.91 L208.87 433.57 L211.19 432.21 L213.52 430.82 L215.85 429.39 L218.18 427.92 L220.5 426.4 L222.83 424.83 L225.16 423.19 L227.49 421.48 L229.81 419.68 L232.14 417.78 L234.47 415.77 L236.8 413.64 L239.12 411.38 L241.45 408.98 L243.78 406.41 L246.11 403.67 L248.43 400.74 L250.76 397.61 L253.09 394.27 L255.42 390.71 L257.74 386.92 L260.07 382.88 L262.4 378.6 L264.73 374.06 L267.05 369.26 L269.38 364.2 L271.71 358.89 L274.04 353.32 L276.36 347.51 L278.69 341.47" stroke="#1a1a1a" stroke-width="1" fill="none" />
<path d="M276.5 346.8 L281 333 L286 319.3" stroke="#1a1a1a" stroke-width="2.1" fill="none" stroke-linecap="round"/>
<path d="M276 345 L280.5 331.5" stroke="#1a1a1a" stroke-width="1.6" fill="none" stroke-dasharray="1.2 0.6"/>
<rect x="55.3" y="295.8" width="257.8" height="176.6" fill="none" stroke="#333" stroke-width="1.3"/>
<line x1="55.3" y1="472.4" x2="313.1" y2="472.4" stroke="#808080" stroke-width="1.8" />
<line x1="51.9" y1="472.4" x2="55.3" y2="472.4" stroke="#333" stroke-width="1.1" />
<line x1="53.3" y1="457.68" x2="55.3" y2="457.68" stroke="#333" stroke-width="1.1" />
<line x1="51.9" y1="442.97" x2="55.3" y2="442.97" stroke="#333" stroke-width="1.1" />
<line x1="53.3" y1="428.25" x2="55.3" y2="428.25" stroke="#333" stroke-width="1.1" />
<line x1="51.9" y1="413.53" x2="55.3" y2="413.53" stroke="#333" stroke-width="1.1" />
<line x1="53.3" y1="398.82" x2="55.3" y2="398.82" stroke="#333" stroke-width="1.1" />
<line x1="51.9" y1="384.1" x2="55.3" y2="384.1" stroke="#333" stroke-width="1.1" />
<line x1="53.3" y1="369.38" x2="55.3" y2="369.38" stroke="#333" stroke-width="1.1" />
<line x1="51.9" y1="354.67" x2="55.3" y2="354.67" stroke="#333" stroke-width="1.1" />
<line x1="53.3" y1="339.95" x2="55.3" y2="339.95" stroke="#333" stroke-width="1.1" />
<line x1="51.9" y1="325.23" x2="55.3" y2="325.23" stroke="#333" stroke-width="1.1" />
<line x1="53.3" y1="310.52" x2="55.3" y2="310.52" stroke="#333" stroke-width="1.1" />
<line x1="51.9" y1="295.8" x2="55.3" y2="295.8" stroke="#333" stroke-width="1.1" />
<line x1="55.3" y1="472.4" x2="55.3" y2="475.6" stroke="#333" stroke-width="1.1" />
<line x1="68.88" y1="472.4" x2="68.88" y2="474" stroke="#333" stroke-width="1.1" />
<line x1="82.46" y1="472.4" x2="82.46" y2="475.6" stroke="#333" stroke-width="1.1" />
<line x1="96.04" y1="472.4" x2="96.04" y2="474" stroke="#333" stroke-width="1.1" />
<line x1="109.62" y1="472.4" x2="109.62" y2="475.6" stroke="#333" stroke-width="1.1" />
<line x1="123.2" y1="472.4" x2="123.2" y2="474" stroke="#333" stroke-width="1.1" />
<line x1="136.78" y1="472.4" x2="136.78" y2="475.6" stroke="#333" stroke-width="1.1" />
<line x1="150.36" y1="472.4" x2="150.36" y2="474" stroke="#333" stroke-width="1.1" />
<line x1="163.94" y1="472.4" x2="163.94" y2="475.6" stroke="#333" stroke-width="1.1" />
<line x1="177.52" y1="472.4" x2="177.52" y2="474" stroke="#333" stroke-width="1.1" />
<line x1="191.1" y1="472.4" x2="191.1" y2="475.6" stroke="#333" stroke-width="1.1" />
<line x1="204.68" y1="472.4" x2="204.68" y2="474" stroke="#333" stroke-width="1.1" />
<line x1="218.26" y1="472.4" x2="218.26" y2="475.6" stroke="#333" stroke-width="1.1" />
<line x1="231.84" y1="472.4" x2="231.84" y2="474" stroke="#333" stroke-width="1.1" />
<line x1="245.42" y1="472.4" x2="245.42" y2="475.6" stroke="#333" stroke-width="1.1" />
<line x1="259" y1="472.4" x2="259" y2="474" stroke="#333" stroke-width="1.1" />
<line x1="272.58" y1="472.4" x2="272.58" y2="475.6" stroke="#333" stroke-width="1.1" />
<line x1="286.16" y1="472.4" x2="286.16" y2="474" stroke="#333" stroke-width="1.1" />
<line x1="299.74" y1="472.4" x2="299.74" y2="475.6" stroke="#333" stroke-width="1.1" />
<text x="49.2" y="475.7" font-size="11.8" text-anchor="end" font-weight="bold" >0</text>
<text x="49.2" y="446.27" font-size="11.8" text-anchor="end" font-weight="bold" >2</text>
<text x="49.2" y="416.83" font-size="11.8" text-anchor="end" font-weight="bold" >4</text>
<text x="49.2" y="387.4" font-size="11.8" text-anchor="end" font-weight="bold" >6</text>
<text x="49.2" y="357.97" font-size="11.8" text-anchor="end" font-weight="bold" >8</text>
<text x="49.2" y="328.53" font-size="11.8" text-anchor="end" font-weight="bold" >10</text>
<text x="49.2" y="299.1" font-size="11.8" text-anchor="end" font-weight="bold" >12</text>
<text x="55.3" y="487.8" font-size="11.8" text-anchor="middle" font-weight="bold" >0</text>
<text x="82.46" y="487.8" font-size="11.8" text-anchor="middle" font-weight="bold" >2</text>
<text x="109.62" y="487.8" font-size="11.8" text-anchor="middle" font-weight="bold" >4</text>
<text x="136.78" y="487.8" font-size="11.8" text-anchor="middle" font-weight="bold" >6</text>
<text x="163.94" y="487.8" font-size="11.8" text-anchor="middle" font-weight="bold" >8</text>
<text x="191.1" y="487.8" font-size="11.8" text-anchor="middle" font-weight="bold" >10</text>
<text x="218.26" y="487.8" font-size="11.8" text-anchor="middle" font-weight="bold" >12</text>
<text x="245.42" y="487.8" font-size="11.8" text-anchor="middle" font-weight="bold" >14</text>
<text x="272.58" y="487.8" font-size="11.8" text-anchor="middle" font-weight="bold" >16</text>
<text x="299.74" y="487.8" font-size="11.8" text-anchor="middle" font-weight="bold" >18</text>
<text x="183.7" y="507.1" font-size="12.26" text-anchor="middle" font-weight="bold" textLength="164.8" lengthAdjust="spacingAndGlyphs" >Vertical Displacement, Δ<tspan font-style="italic" font-size="8.5" dy="3">v</tspan><tspan dy="-3"> (mm)</tspan></text>
<text transform="translate(30.6,383.7) rotate(-90)" x="0" y="0" font-size="12.31" text-anchor="middle" font-weight="bold" textLength="120" lengthAdjust="spacingAndGlyphs" >Vertical Force, <tspan font-style="italic">F</tspan><tspan font-style="italic" font-size="8.8" dy="3">v</tspan><tspan dy="-3"> (kN)</tspan></text>
<text x="167.55" y="533.9" font-size="16.6" text-anchor="middle" font-weight="normal" textLength="323.5" lengthAdjust="spacingAndGlyphs" stroke="#000" stroke-width="0.12">(c) Compression test force-displacement curve</text>
<ellipse cx="281.3" cy="333.4" rx="19.5" ry="17.5" fill="none" stroke="#f41c1c" stroke-width="2.3"/>
<line x1="197" y1="333.4" x2="261.5" y2="333.4" stroke="#f41c1c" stroke-width="2.8" />
<path d="M192.6 333.3 L198.2 330.4 L198.2 336.2 Z" fill="#f41c1c"/>
<line x1="111.3" y1="301.3" x2="111.3" y2="381.9" stroke="#999" stroke-width="1" />
<line x1="149.4" y1="301.3" x2="149.4" y2="381.9" stroke="#999" stroke-width="1" />
<line x1="73.2" y1="355.03" x2="187.5" y2="355.03" stroke="#999" stroke-width="1" />
<line x1="73.2" y1="328.17" x2="187.5" y2="328.17" stroke="#999" stroke-width="1" />
<line x1="73.2" y1="317.1" x2="187.5" y2="317.1" stroke="#333" stroke-width="1.2" stroke-dasharray="1 1"/>
<line x1="73.2" y1="367.2" x2="187.5" y2="367.2" stroke="#d03030" stroke-width="1.2" stroke-dasharray="1 1"/>
<line x1="73.2" y1="342.5" x2="122.2" y2="342.5" stroke="#808080" stroke-width="0.9" />
<path d="M97 366.9 C113.1 349.2 130.2 332.6 148.3 317.1" stroke="#444" stroke-width="1.1" fill="none"/>
<path d="M97 366.9 C116.5 352.8 135 337.6 148.3 317.1" stroke="#444" stroke-width="1.1" fill="none"/>
<path d="M122.2 342.5 Q125 346 123.3 350 L120 356 L92.1 382" stroke="#777" stroke-width="0.7" fill="none"/>
<rect x="73.2" y="301.3" width="114.3" height="80.6" fill="none" stroke="#888" stroke-width="0.9"/>
<line x1="71.2" y1="381.9" x2="73.2" y2="381.9" stroke="#555" stroke-width="0.8" />
<line x1="71.2" y1="355.03" x2="73.2" y2="355.03" stroke="#555" stroke-width="0.8" />
<line x1="71.2" y1="328.17" x2="73.2" y2="328.17" stroke="#555" stroke-width="0.8" />
<line x1="71.2" y1="301.3" x2="73.2" y2="301.3" stroke="#555" stroke-width="0.8" />
<line x1="73.2" y1="381.9" x2="73.2" y2="383.9" stroke="#555" stroke-width="0.8" />
<line x1="111.3" y1="381.9" x2="111.3" y2="383.9" stroke="#555" stroke-width="0.8" />
<line x1="149.4" y1="381.9" x2="149.4" y2="383.9" stroke="#555" stroke-width="0.8" />
<line x1="187.5" y1="381.9" x2="187.5" y2="383.9" stroke="#555" stroke-width="0.8" />
<line x1="92.25" y1="381.9" x2="92.25" y2="380.4" stroke="#555" stroke-width="0.7" />
<line x1="130.35" y1="381.9" x2="130.35" y2="380.4" stroke="#555" stroke-width="0.7" />
<line x1="168.45" y1="381.9" x2="168.45" y2="380.4" stroke="#555" stroke-width="0.7" />
<text x="70.7" y="383.9" font-size="6.2" text-anchor="end" font-weight="bold" fill="#1a1a1a">8</text>
<text x="70.7" y="357.03" font-size="6.2" text-anchor="end" font-weight="bold" fill="#1a1a1a">9</text>
<text x="70.7" y="330.17" font-size="6.2" text-anchor="end" font-weight="bold" fill="#1a1a1a">10</text>
<text x="70.7" y="303.3" font-size="6.2" text-anchor="end" font-weight="bold" fill="#1a1a1a">11</text>
<text x="73.2" y="389" font-size="6.2" text-anchor="middle" font-weight="bold" fill="#1a1a1a">16.0</text>
<text x="111.3" y="389" font-size="6.2" text-anchor="middle" font-weight="bold" fill="#1a1a1a">16.5</text>
<text x="149.4" y="389" font-size="6.2" text-anchor="middle" font-weight="bold" fill="#1a1a1a">17.0</text>
<text x="187.5" y="389" font-size="6.2" text-anchor="middle" font-weight="bold" fill="#1a1a1a">17.5</text>
<text x="130" y="398" font-size="6.3" text-anchor="middle" font-weight="bold" textLength="77.2" lengthAdjust="spacingAndGlyphs" fill="#1a1a1a">Vertical Displacement, Δ<tspan font-style="italic" font-size="4.5" dy="1.5">v</tspan><tspan dy="-1.5"> (mm)</tspan></text>
<text transform="translate(62.4,341.45) rotate(-90)" x="0" y="0" font-size="5.8" text-anchor="middle" font-weight="bold" textLength="56.1" lengthAdjust="spacingAndGlyphs" fill="#1a1a1a">Vertical Force, <tspan font-style="italic">F</tspan><tspan font-style="italic" font-size="4.5" dy="1.5">v</tspan><tspan dy="-1.5"> (kN)</tspan></text>
<text x="167.6" y="314" font-size="6.4" text-anchor="middle" font-weight="bold" textLength="38.2" lengthAdjust="spacingAndGlyphs" fill="#1a1a1a"><tspan font-style="italic">F</tspan><tspan font-size="4.5" dy="1.5">1.1</tspan><tspan dy="-1.5">= 10.45 kN</tspan></text>
<text x="167.6" y="363.6" font-size="6.4" text-anchor="middle" font-weight="bold" textLength="32.8" lengthAdjust="spacingAndGlyphs" fill="#1a1a1a"><tspan font-style="italic">F</tspan><tspan font-size="4.5" dy="1.5">0.9</tspan><tspan dy="-1.5">=8.55 kN</tspan></text>
<line x1="434.65" y1="295.6" x2="434.65" y2="471.8" stroke="#d8d8d8" stroke-width="1.3" />
<line x1="486.15" y1="295.6" x2="486.15" y2="471.8" stroke="#d8d8d8" stroke-width="1.3" />
<line x1="537.65" y1="295.6" x2="537.65" y2="471.8" stroke="#d8d8d8" stroke-width="1.3" />
<line x1="589.15" y1="295.6" x2="589.15" y2="471.8" stroke="#d8d8d8" stroke-width="1.3" />
<line x1="640.65" y1="295.6" x2="640.65" y2="471.8" stroke="#d8d8d8" stroke-width="1.3" />
<line x1="408.9" y1="442.43" x2="666.4" y2="442.43" stroke="#d8d8d8" stroke-width="1.3" />
<line x1="408.9" y1="413.07" x2="666.4" y2="413.07" stroke="#d8d8d8" stroke-width="1.3" />
<line x1="408.9" y1="383.7" x2="666.4" y2="383.7" stroke="#d8d8d8" stroke-width="1.3" />
<line x1="408.9" y1="354.33" x2="666.4" y2="354.33" stroke="#d8d8d8" stroke-width="1.3" />
<line x1="408.9" y1="324.97" x2="666.4" y2="324.97" stroke="#d8d8d8" stroke-width="1.3" />
<path d="M511.9 411.3 C511.94 409.74 512.03 404.75 512.16 401.91 C512.29 399.07 512.2 396.38 512.67 394.27 C513.14 392.17 513.57 390.89 514.99 389.28 C516.41 387.66 518.68 386.59 521.17 384.58 C523.66 382.57 527.18 379.64 529.92 377.24 C532.67 374.84 534.22 372.64 537.65 370.19 C541.08 367.74 546.23 365.1 550.52 362.56 C554.82 360.01 561.25 356.19 563.4 354.92" stroke="#1a1a1a" stroke-width="1.15" fill="none" />
<path d="M563.4 354.92 C563.36 356.78 563.27 362.8 563.14 366.08 C563.01 369.36 563.19 372.74 562.63 374.6 C562.07 376.46 561.81 375.62 559.79 377.24 C557.78 378.85 554.22 381.35 550.52 384.29 C546.83 387.22 541.08 392.12 537.65 394.86 C534.22 397.6 532.5 398.77 529.92 400.73 C527.35 402.69 525.2 404.84 522.2 406.61 C519.2 408.37 513.62 410.52 511.9 411.3" stroke="#1a1a1a" stroke-width="1.15" fill="none" />
<path d="M486.66 427.46 C486.75 426.04 486.97 421.63 487.18 418.94 C487.39 416.25 487.22 413.65 487.95 411.3 C488.68 408.96 489.28 407.44 491.56 404.84 C493.83 402.25 498.3 398.73 501.6 395.74 C504.9 392.75 508.12 389.67 511.38 386.93 C514.65 384.19 516.79 382.18 521.17 379.3 C525.55 376.41 532.76 372.49 537.65 369.6 C542.54 366.72 546.23 364.42 550.52 361.97 C554.82 359.52 559.11 357.37 563.4 354.92 C567.69 352.47 571.98 349.83 576.27 347.29 C580.57 344.74 587 340.92 589.15 339.65" stroke="#1a1a1a" stroke-width="1.15" fill="none" />
<path d="M589.15 339.65 C589.11 341.36 589.06 346.75 588.89 349.93 C588.72 353.11 588.68 356.63 588.12 358.74 C587.56 360.84 587.52 360.55 585.54 362.56 C583.57 364.56 579.97 367.74 576.27 370.78 C572.58 373.81 567.69 377.63 563.4 380.76 C559.11 383.9 554.82 386.83 550.52 389.57 C546.23 392.31 541.94 394.66 537.65 397.21 C533.36 399.75 529.07 402.4 524.77 404.84 C520.48 407.29 516.19 409.44 511.9 411.89 C507.61 414.34 503.23 416.93 499.02 419.53 C494.82 422.12 488.72 426.13 486.66 427.46" stroke="#1a1a1a" stroke-width="1.15" fill="none" />
<path d="M460.4 441.55 C460.44 440.23 460.53 436.02 460.66 433.62 C460.79 431.23 460.49 429.61 461.17 427.16 C461.86 424.72 462.33 421.73 464.78 418.94 C467.22 416.15 471.99 413.26 475.85 410.42 C479.71 407.58 483.88 404.75 487.95 401.91 C492.03 399.07 496.41 396.08 500.31 393.39 C504.22 390.7 507.91 388.35 511.38 385.76 C514.86 383.16 516.79 380.62 521.17 377.83 C525.55 375.04 530.61 372.83 537.65 369.02 C544.69 365.2 554.82 359.77 563.4 354.92 C571.98 350.08 580.57 344.74 589.15 339.94 C597.73 335.15 610.61 328.44 614.9 326.14" stroke="#1a1a1a" stroke-width="1.15" fill="none" />
<path d="M614.9 326.14 C614.86 327.9 614.86 333.48 614.64 336.71 C614.43 339.94 614.43 343.32 613.61 345.52 C612.8 347.73 613.83 346.6 609.75 349.93 C605.67 353.26 596.88 360.11 589.15 365.49 C581.42 370.88 569.84 378.22 563.4 382.23 C556.96 386.25 554.82 386.88 550.52 389.57 C546.23 392.27 544.09 394.61 537.65 398.38 C531.21 402.15 520.48 407.34 511.9 412.19 C503.32 417.03 494.73 422.56 486.15 427.46 C477.57 432.35 464.69 439.2 460.4 441.55" stroke="#1a1a1a" stroke-width="1.15" fill="none" />
<path d="M435.29 454.77 C435.16 453.69 434.63 450.22 434.52 448.31 C434.41 446.4 434.03 445.61 434.65 443.31 C435.27 441.01 436.62 437.59 438.25 434.5 C439.89 431.42 442.2 427.21 444.43 424.81 C446.67 422.42 448.25 422.17 451.64 420.11 C455.04 418.06 460.66 414.93 464.78 412.48 C468.9 410.03 472.5 407.78 476.37 405.43 C480.23 403.08 484.05 400.83 487.95 398.38 C491.86 395.94 495.89 393.2 499.8 390.75 C503.7 388.3 507.82 386.1 511.38 383.7 C514.95 381.3 516.79 378.9 521.17 376.36 C525.55 373.81 530.61 372 537.65 368.43 C544.69 364.86 554.82 359.67 563.4 354.92 C571.98 350.17 580.57 344.74 589.15 339.94 C597.73 335.15 606.32 330.4 614.9 326.14 C623.48 321.88 636.36 316.35 640.65 314.39" stroke="#1a1a1a" stroke-width="1.15" fill="none" />
<path d="M640.65 314.39 C640.74 315.23 641.25 316.4 641.16 319.39 C641.08 322.37 640.52 329.22 640.13 332.31 C639.75 335.39 639.53 336.42 638.85 337.89 C638.16 339.36 640.99 337.79 636.01 341.12 C631.04 344.45 617.86 352.42 608.98 357.86 C600.09 363.29 591.47 368.43 582.71 373.72 C573.96 379 563.96 385.17 556.45 389.57 C548.94 393.98 545.07 396.28 537.65 400.15 C530.23 404.01 520.48 408.22 511.9 412.77 C503.32 417.32 494.73 422.66 486.15 427.46 C477.57 432.25 468.88 437 460.4 441.55 C451.92 446.1 439.48 452.56 435.29 454.77" stroke="#1a1a1a" stroke-width="1.15" fill="none" />
<rect x="408.9" y="295.6" width="257.5" height="176.2" fill="none" stroke="#444" stroke-width="1.3"/>
<line x1="408.9" y1="295.6" x2="408.9" y2="471.8" stroke="#808080" stroke-width="1.7" />
<line x1="405.7" y1="471.8" x2="408.9" y2="471.8" stroke="#444" stroke-width="1.1" />
<line x1="405.7" y1="442.43" x2="408.9" y2="442.43" stroke="#444" stroke-width="1.1" />
<line x1="405.7" y1="413.07" x2="408.9" y2="413.07" stroke="#444" stroke-width="1.1" />
<line x1="405.7" y1="383.7" x2="408.9" y2="383.7" stroke="#444" stroke-width="1.1" />
<line x1="405.7" y1="354.33" x2="408.9" y2="354.33" stroke="#444" stroke-width="1.1" />
<line x1="405.7" y1="324.97" x2="408.9" y2="324.97" stroke="#444" stroke-width="1.1" />
<line x1="405.7" y1="295.6" x2="408.9" y2="295.6" stroke="#444" stroke-width="1.1" />
<line x1="407.1" y1="457.12" x2="408.9" y2="457.12" stroke="#444" stroke-width="1" />
<line x1="407.1" y1="427.75" x2="408.9" y2="427.75" stroke="#444" stroke-width="1" />
<line x1="407.1" y1="398.38" x2="408.9" y2="398.38" stroke="#444" stroke-width="1" />
<line x1="407.1" y1="369.02" x2="408.9" y2="369.02" stroke="#444" stroke-width="1" />
<line x1="407.1" y1="339.65" x2="408.9" y2="339.65" stroke="#444" stroke-width="1" />
<line x1="407.1" y1="310.28" x2="408.9" y2="310.28" stroke="#444" stroke-width="1" />
<line x1="434.65" y1="471.8" x2="434.65" y2="474.8" stroke="#444" stroke-width="1.1" />
<line x1="486.15" y1="471.8" x2="486.15" y2="474.8" stroke="#444" stroke-width="1.1" />
<line x1="537.65" y1="471.8" x2="537.65" y2="474.8" stroke="#444" stroke-width="1.1" />
<line x1="589.15" y1="471.8" x2="589.15" y2="474.8" stroke="#444" stroke-width="1.1" />
<line x1="640.65" y1="471.8" x2="640.65" y2="474.8" stroke="#444" stroke-width="1.1" />
<line x1="460.4" y1="471.8" x2="460.4" y2="470" stroke="#444" stroke-width="1" />
<line x1="511.9" y1="471.8" x2="511.9" y2="470" stroke="#444" stroke-width="1" />
<line x1="563.4" y1="471.8" x2="563.4" y2="470" stroke="#444" stroke-width="1" />
<line x1="614.9" y1="471.8" x2="614.9" y2="470" stroke="#444" stroke-width="1" />
<text transform="translate(403.3,475.6) scale(1,1.05)" font-size="12.7" text-anchor="end" font-weight="bold" >-3</text>
<text transform="translate(403.3,446.23) scale(1,1.05)" font-size="12.7" text-anchor="end" font-weight="bold" >-2</text>
<text transform="translate(403.3,416.87) scale(1,1.05)" font-size="12.7" text-anchor="end" font-weight="bold" >-1</text>
<text transform="translate(403.3,387.5) scale(1,1.05)" font-size="12.7" text-anchor="end" font-weight="bold" >0</text>
<text transform="translate(403.3,358.13) scale(1,1.05)" font-size="12.7" text-anchor="end" font-weight="bold" >1</text>
<text transform="translate(403.3,328.77) scale(1,1.05)" font-size="12.7" text-anchor="end" font-weight="bold" >2</text>
<text transform="translate(403.3,299.4) scale(1,1.05)" font-size="12.7" text-anchor="end" font-weight="bold" >3</text>
<text transform="translate(434.65,486.9) scale(1,1.05)" font-size="12.7" text-anchor="middle" font-weight="bold" >-40</text>
<text transform="translate(486.15,486.9) scale(1,1.05)" font-size="12.7" text-anchor="middle" font-weight="bold" >-20</text>
<text transform="translate(537.65,486.9) scale(1,1.05)" font-size="12.7" text-anchor="middle" font-weight="bold" >0</text>
<text transform="translate(589.15,486.9) scale(1,1.05)" font-size="12.7" text-anchor="middle" font-weight="bold" >20</text>
<text transform="translate(640.65,486.9) scale(1,1.05)" font-size="12.7" text-anchor="middle" font-weight="bold" >40</text>
<text x="537.35" y="507.1" font-size="11.96" text-anchor="middle" font-weight="bold" textLength="159.5" lengthAdjust="spacingAndGlyphs" >Lateral Displacement, Δ<tspan font-style="italic" font-size="8.5" dy="3">h</tspan><tspan dy="-3"> (mm)</tspan></text>
<text transform="translate(386.6,383.2) rotate(-90)" x="0" y="0" font-size="12.07" text-anchor="middle" font-weight="bold" textLength="116.4" lengthAdjust="spacingAndGlyphs" >Lateral Force, <tspan font-style="italic">F</tspan><tspan font-style="italic" font-size="8.3" dy="3">h</tspan><tspan dy="-3"> (kN)</tspan></text>
<text x="522.15" y="533.9" font-size="16.6" text-anchor="middle" font-weight="normal" textLength="317.5" lengthAdjust="spacingAndGlyphs" stroke="#000" stroke-width="0.12">(d) Shear cyclic test force-displacement curve</text>
<line x1="112.87" y1="583.8" x2="112.87" y2="745.6" stroke="#c0c0c0" stroke-width="1.1" />
<line x1="170.13" y1="583.8" x2="170.13" y2="745.6" stroke="#c0c0c0" stroke-width="1.1" />
<line x1="227.4" y1="583.8" x2="227.4" y2="745.6" stroke="#c0c0c0" stroke-width="1.1" />
<line x1="284.67" y1="583.8" x2="284.67" y2="745.6" stroke="#c0c0c0" stroke-width="1.1" />
<line x1="55.6" y1="713.24" x2="313.3" y2="713.24" stroke="#c0c0c0" stroke-width="1.1" />
<line x1="55.6" y1="680.88" x2="313.3" y2="680.88" stroke="#c0c0c0" stroke-width="1.1" />
<line x1="55.6" y1="648.52" x2="313.3" y2="648.52" stroke="#c0c0c0" stroke-width="1.1" />
<line x1="55.6" y1="616.16" x2="313.3" y2="616.16" stroke="#c0c0c0" stroke-width="1.1" />
<path d="M112.87 595.13 L170.13 625.38 L284.67 651.76" stroke="#000" stroke-width="2.1" fill="none" stroke-linejoin="round"/>
<rect x="55.6" y="583.8" width="257.7" height="161.8" fill="none" stroke="#444" stroke-width="1.25"/>
<line x1="55.6" y1="583.8" x2="313.3" y2="583.8" stroke="#777" stroke-width="2" />
<line x1="52.1" y1="745.6" x2="55.6" y2="745.6" stroke="#444" stroke-width="1.1" />
<line x1="52.1" y1="713.24" x2="55.6" y2="713.24" stroke="#444" stroke-width="1.1" />
<line x1="52.1" y1="680.88" x2="55.6" y2="680.88" stroke="#444" stroke-width="1.1" />
<line x1="52.1" y1="648.52" x2="55.6" y2="648.52" stroke="#444" stroke-width="1.1" />
<line x1="52.1" y1="616.16" x2="55.6" y2="616.16" stroke="#444" stroke-width="1.1" />
<line x1="52.1" y1="583.8" x2="55.6" y2="583.8" stroke="#444" stroke-width="1.1" />
<line x1="53.6" y1="729.42" x2="55.6" y2="729.42" stroke="#444" stroke-width="1" />
<line x1="53.6" y1="697.06" x2="55.6" y2="697.06" stroke="#444" stroke-width="1" />
<line x1="53.6" y1="664.7" x2="55.6" y2="664.7" stroke="#444" stroke-width="1" />
<line x1="53.6" y1="632.34" x2="55.6" y2="632.34" stroke="#444" stroke-width="1" />
<line x1="53.6" y1="599.98" x2="55.6" y2="599.98" stroke="#444" stroke-width="1" />
<line x1="55.6" y1="745.6" x2="55.6" y2="748.8" stroke="#444" stroke-width="1.1" />
<line x1="55.6" y1="583.8" x2="55.6" y2="580.6" stroke="#444" stroke-width="1.1" />
<line x1="112.87" y1="745.6" x2="112.87" y2="748.8" stroke="#444" stroke-width="1.1" />
<line x1="112.87" y1="583.8" x2="112.87" y2="580.6" stroke="#444" stroke-width="1.1" />
<line x1="170.13" y1="745.6" x2="170.13" y2="748.8" stroke="#444" stroke-width="1.1" />
<line x1="170.13" y1="583.8" x2="170.13" y2="580.6" stroke="#444" stroke-width="1.1" />
<line x1="227.4" y1="745.6" x2="227.4" y2="748.8" stroke="#444" stroke-width="1.1" />
<line x1="227.4" y1="583.8" x2="227.4" y2="580.6" stroke="#444" stroke-width="1.1" />
<line x1="284.67" y1="745.6" x2="284.67" y2="748.8" stroke="#444" stroke-width="1.1" />
<line x1="284.67" y1="583.8" x2="284.67" y2="580.6" stroke="#444" stroke-width="1.1" />
<line x1="84.23" y1="745.6" x2="84.23" y2="747.4" stroke="#444" stroke-width="1" />
<line x1="84.23" y1="583.8" x2="84.23" y2="582" stroke="#444" stroke-width="1" />
<line x1="141.5" y1="745.6" x2="141.5" y2="747.4" stroke="#444" stroke-width="1" />
<line x1="141.5" y1="583.8" x2="141.5" y2="582" stroke="#444" stroke-width="1" />
<line x1="198.77" y1="745.6" x2="198.77" y2="747.4" stroke="#444" stroke-width="1" />
<line x1="198.77" y1="583.8" x2="198.77" y2="582" stroke="#444" stroke-width="1" />
<line x1="256.03" y1="745.6" x2="256.03" y2="747.4" stroke="#444" stroke-width="1" />
<line x1="256.03" y1="583.8" x2="256.03" y2="582" stroke="#444" stroke-width="1" />
<line x1="313.3" y1="745.6" x2="313.3" y2="747.4" stroke="#444" stroke-width="1" />
<line x1="313.3" y1="583.8" x2="313.3" y2="582" stroke="#444" stroke-width="1" />
<text transform="translate(49.4,749.9) scale(1,1.12)" font-size="12.9" text-anchor="end" font-weight="bold" >0.00</text>
<text transform="translate(49.4,717.54) scale(1,1.12)" font-size="12.9" text-anchor="end" font-weight="bold" >0.02</text>
<text transform="translate(49.4,685.18) scale(1,1.12)" font-size="12.9" text-anchor="end" font-weight="bold" >0.04</text>
<text transform="translate(49.4,652.82) scale(1,1.12)" font-size="12.9" text-anchor="end" font-weight="bold" >0.06</text>
<text transform="translate(49.4,620.46) scale(1,1.12)" font-size="12.9" text-anchor="end" font-weight="bold" >0.08</text>
<text transform="translate(49.4,588.1) scale(1,1.12)" font-size="12.9" text-anchor="end" font-weight="bold" >0.10</text>
<text x="55.6" y="761.4" font-size="12.9" text-anchor="middle" font-weight="bold" >0.0</text>
<text x="112.87" y="761.4" font-size="12.9" text-anchor="middle" font-weight="bold" >10.0</text>
<text x="170.13" y="761.4" font-size="12.9" text-anchor="middle" font-weight="bold" >20.0</text>
<text x="227.4" y="761.4" font-size="12.9" text-anchor="middle" font-weight="bold" >30.0</text>
<text x="284.67" y="761.4" font-size="12.9" text-anchor="middle" font-weight="bold" >40.0</text>
<text transform="translate(55.6,575.3) scale(1,1.14)" font-size="12.6" text-anchor="middle" font-weight="bold" >0</text>
<text transform="translate(112.87,575.3) scale(1,1.14)" font-size="12.6" text-anchor="middle" font-weight="bold" >25</text>
<text transform="translate(170.13,575.3) scale(1,1.14)" font-size="12.6" text-anchor="middle" font-weight="bold" >50</text>
<text transform="translate(227.4,575.3) scale(1,1.14)" font-size="12.6" text-anchor="middle" font-weight="bold" >75</text>
<text transform="translate(284.67,575.3) scale(1,1.14)" font-size="12.6" text-anchor="middle" font-weight="bold" >100</text>
<text x="184.4" y="555.4" font-size="13.26" text-anchor="middle" font-weight="bold" textLength="95.4" lengthAdjust="spacingAndGlyphs" >Shear strain (%)</text>
<text x="184.3" y="783.9" font-size="13.15" text-anchor="middle" font-weight="bold" textLength="175.4" lengthAdjust="spacingAndGlyphs" >Lateral Displacement, Δ<tspan font-style="italic" font-size="8.8" dy="3">h</tspan><tspan dy="-3"> (mm)</tspan></text>
<text transform="translate(19.6,664.55) rotate(-90)" x="0" y="0" font-size="13.28" text-anchor="middle" font-weight="bold" textLength="167.3" lengthAdjust="spacingAndGlyphs" >Lateral stiffness, <tspan font-style="italic">K</tspan><tspan font-style="italic" font-size="8.8" dy="3">h</tspan><tspan dy="-3"> (kN/mm)</tspan></text>
<text x="167.35" y="810.9" font-size="16.4" text-anchor="middle" font-weight="normal" textLength="335.9" lengthAdjust="spacingAndGlyphs" stroke="#000" stroke-width="0.12">(e) Variation of lateral stiffness with shear strain</text>
<line x1="462.09" y1="584.1" x2="462.09" y2="745.4" stroke="#b4b4b4" stroke-width="1.1" />
<line x1="524.18" y1="584.1" x2="524.18" y2="745.4" stroke="#b4b4b4" stroke-width="1.1" />
<line x1="586.27" y1="584.1" x2="586.27" y2="745.4" stroke="#b4b4b4" stroke-width="1.1" />
<line x1="648.36" y1="584.1" x2="648.36" y2="745.4" stroke="#b4b4b4" stroke-width="1.1" />
<line x1="400" y1="718.52" x2="679.4" y2="718.52" stroke="#b4b4b4" stroke-width="1.1" />
<line x1="400" y1="691.63" x2="679.4" y2="691.63" stroke="#b4b4b4" stroke-width="1.1" />
<line x1="400" y1="664.75" x2="679.4" y2="664.75" stroke="#b4b4b4" stroke-width="1.1" />
<line x1="400" y1="637.87" x2="679.4" y2="637.87" stroke="#b4b4b4" stroke-width="1.1" />
<line x1="400" y1="610.98" x2="679.4" y2="610.98" stroke="#b4b4b4" stroke-width="1.1" />
<path d="M462.09 586.45 L524.18 625.77 L586.27 644.25 L648.36 652.65" stroke="#000" stroke-width="2.1" fill="none" stroke-linejoin="round"/>
<rect x="400" y="584.1" width="279.4" height="161.3" fill="none" stroke="#444" stroke-width="1.25"/>
<line x1="400" y1="584.1" x2="679.4" y2="584.1" stroke="#777" stroke-width="2" />
<line x1="396.5" y1="745.4" x2="400" y2="745.4" stroke="#444" stroke-width="1.1" />
<line x1="396.5" y1="718.52" x2="400" y2="718.52" stroke="#444" stroke-width="1.1" />
<line x1="396.5" y1="691.63" x2="400" y2="691.63" stroke="#444" stroke-width="1.1" />
<line x1="396.5" y1="664.75" x2="400" y2="664.75" stroke="#444" stroke-width="1.1" />
<line x1="396.5" y1="637.87" x2="400" y2="637.87" stroke="#444" stroke-width="1.1" />
<line x1="396.5" y1="610.98" x2="400" y2="610.98" stroke="#444" stroke-width="1.1" />
<line x1="396.5" y1="584.1" x2="400" y2="584.1" stroke="#444" stroke-width="1.1" />
<line x1="398" y1="731.96" x2="400" y2="731.96" stroke="#444" stroke-width="1" />
<line x1="398" y1="705.08" x2="400" y2="705.08" stroke="#444" stroke-width="1" />
<line x1="398" y1="678.19" x2="400" y2="678.19" stroke="#444" stroke-width="1" />
<line x1="398" y1="651.31" x2="400" y2="651.31" stroke="#444" stroke-width="1" />
<line x1="398" y1="624.42" x2="400" y2="624.42" stroke="#444" stroke-width="1" />
<line x1="398" y1="597.54" x2="400" y2="597.54" stroke="#444" stroke-width="1" />
<line x1="400" y1="745.4" x2="400" y2="748.6" stroke="#444" stroke-width="1.1" />
<line x1="400" y1="584.1" x2="400" y2="580.9" stroke="#444" stroke-width="1.1" />
<line x1="462.09" y1="745.4" x2="462.09" y2="748.6" stroke="#444" stroke-width="1.1" />
<line x1="462.09" y1="584.1" x2="462.09" y2="580.9" stroke="#444" stroke-width="1.1" />
<line x1="524.18" y1="745.4" x2="524.18" y2="748.6" stroke="#444" stroke-width="1.1" />
<line x1="524.18" y1="584.1" x2="524.18" y2="580.9" stroke="#444" stroke-width="1.1" />
<line x1="586.27" y1="745.4" x2="586.27" y2="748.6" stroke="#444" stroke-width="1.1" />
<line x1="586.27" y1="584.1" x2="586.27" y2="580.9" stroke="#444" stroke-width="1.1" />
<line x1="648.36" y1="745.4" x2="648.36" y2="748.6" stroke="#444" stroke-width="1.1" />
<line x1="648.36" y1="584.1" x2="648.36" y2="580.9" stroke="#444" stroke-width="1.1" />
<line x1="431.04" y1="745.4" x2="431.04" y2="747.2" stroke="#444" stroke-width="1" />
<line x1="431.04" y1="584.1" x2="431.04" y2="582.3" stroke="#444" stroke-width="1" />
<line x1="493.13" y1="745.4" x2="493.13" y2="747.2" stroke="#444" stroke-width="1" />
<line x1="493.13" y1="584.1" x2="493.13" y2="582.3" stroke="#444" stroke-width="1" />
<line x1="555.22" y1="745.4" x2="555.22" y2="747.2" stroke="#444" stroke-width="1" />
<line x1="555.22" y1="584.1" x2="555.22" y2="582.3" stroke="#444" stroke-width="1" />
<line x1="617.31" y1="745.4" x2="617.31" y2="747.2" stroke="#444" stroke-width="1" />
<line x1="617.31" y1="584.1" x2="617.31" y2="582.3" stroke="#444" stroke-width="1" />
<line x1="679.4" y1="745.4" x2="679.4" y2="747.2" stroke="#444" stroke-width="1" />
<line x1="679.4" y1="584.1" x2="679.4" y2="582.3" stroke="#444" stroke-width="1" />
<text transform="translate(393.4,749.5) scale(1,1.12)" font-size="12.9" text-anchor="end" font-weight="bold" >0</text>
<text transform="translate(393.4,722.62) scale(1,1.12)" font-size="12.9" text-anchor="end" font-weight="bold" >4</text>
<text transform="translate(393.4,695.73) scale(1,1.12)" font-size="12.9" text-anchor="end" font-weight="bold" >8</text>
<text transform="translate(393.4,668.85) scale(1,1.12)" font-size="12.9" text-anchor="end" font-weight="bold" >12</text>
<text transform="translate(393.4,641.97) scale(1,1.12)" font-size="12.9" text-anchor="end" font-weight="bold" >16</text>
<text transform="translate(393.4,615.08) scale(1,1.12)" font-size="12.9" text-anchor="end" font-weight="bold" >20</text>
<text transform="translate(393.4,588.2) scale(1,1.12)" font-size="12.9" text-anchor="end" font-weight="bold" >24</text>
<text x="400" y="761.4" font-size="12.9" text-anchor="middle" font-weight="bold" >0.0</text>
<text x="462.09" y="761.4" font-size="12.9" text-anchor="middle" font-weight="bold" >10.0</text>
<text x="524.18" y="761.4" font-size="12.9" text-anchor="middle" font-weight="bold" >20.0</text>
<text x="586.27" y="761.4" font-size="12.9" text-anchor="middle" font-weight="bold" >30.0</text>
<text x="648.36" y="761.4" font-size="12.9" text-anchor="middle" font-weight="bold" >40.0</text>
<text transform="translate(400,575.3) scale(1,1.14)" font-size="12.6" text-anchor="middle" font-weight="bold" >0</text>
<text transform="translate(462.09,575.3) scale(1,1.14)" font-size="12.6" text-anchor="middle" font-weight="bold" >25</text>
<text transform="translate(524.18,575.3) scale(1,1.14)" font-size="12.6" text-anchor="middle" font-weight="bold" >50</text>
<text transform="translate(586.27,575.3) scale(1,1.14)" font-size="12.6" text-anchor="middle" font-weight="bold" >75</text>
<text transform="translate(648.36,575.3) scale(1,1.14)" font-size="12.6" text-anchor="middle" font-weight="bold" >100</text>
<text x="539.75" y="555.4" font-size="13.19" text-anchor="middle" font-weight="bold" textLength="94.9" lengthAdjust="spacingAndGlyphs" >Shear strain (%)</text>
<text x="539.3" y="783.9" font-size="12.94" text-anchor="middle" font-weight="bold" textLength="172.6" lengthAdjust="spacingAndGlyphs" >Lateral Displacement, Δ<tspan font-style="italic" font-size="8.8" dy="3">h</tspan><tspan dy="-3"> (mm)</tspan></text>
<text transform="translate(375.8,664.3) rotate(-90)" x="0" y="0" font-size="13.05" text-anchor="middle" font-weight="bold" textLength="194.6" lengthAdjust="spacingAndGlyphs" >Equivalent viscous damping, <tspan font-style="italic">ξ</tspan> (%)</text>
<text x="522.75" y="810.9" font-size="16.4" text-anchor="middle" font-weight="normal" textLength="326.1" lengthAdjust="spacingAndGlyphs" stroke="#000" stroke-width="0.12">(f) Variation of damping ratio with shear strain</text>
</svg>
</body></html>
